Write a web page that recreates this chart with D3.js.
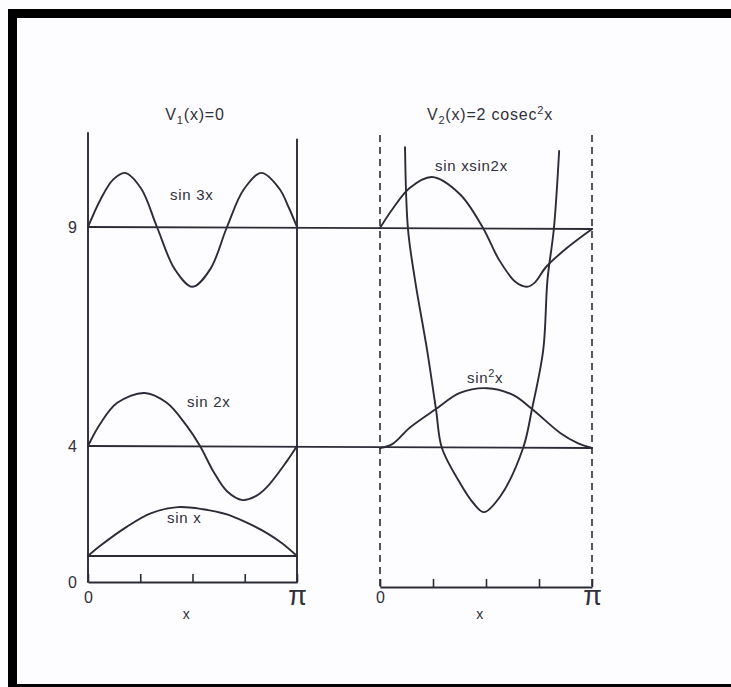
<!DOCTYPE html>
<html>
<head>
<meta charset="utf-8">
<script src="https://cdn.jsdelivr.net/npm/d3@7"></script>
<style>
  html, body { margin: 0; padding: 0; background: #ffffff; }
  svg { display: block; }
  text { font-family: "Liberation Sans", Arial, sans-serif; fill: #30303a; }
</style>
</head>
<body>
<svg id="chart" width="731" height="687"></svg>
<script>
// ---- data -------------------------------------------------------------
// energy levels (eigenvalues) and the y tick labels
const energyLevels = [0, 1, 4, 9];
const yTickValues = [0, 4, 9];
const yTickLabels = ["0", "4", "9"];
// x runs from 0 to π, stored in units of π
const xTickValues = [0, 0.25, 0.5, 0.75, 1];
const xTickLabels = ["0", "", "", "", "π"];
const xAxisLabel = "x";

// free particle in a box, V1(x)=0 : wavefunctions [x/π, amplitude]
const sinX = [[0, 0], [0.06, 0.2], [0.185, 0.56], [0.3, 0.82], [0.43, 0.94], [0.55, 0.9],
              [0.665, 0.8], [0.76, 0.64], [0.856, 0.44], [0.93, 0.24], [1, 0]];
const sin2X = [[0, 0], [0.057, 0.42], [0.14, 0.83], [0.27, 1.02], [0.377, 0.83], [0.47, 0.4],
               [0.536, 0], [0.6, -0.49], [0.665, -0.87], [0.74, -1.04], [0.8, -0.97],
               [0.856, -0.79], [0.95, -0.3], [1, 0]];
const sin3X = [[0, 0], [0.06, 0.53], [0.12, 0.91], [0.177, 1.04], [0.254, 0.74], [0.33, 0],
               [0.415, -0.81], [0.5, -1.15], [0.585, -0.81], [0.665, 0], [0.745, 0.72],
               [0.83, 1.04], [0.915, 0.74], [0.96, 0.38], [1, 0]];

// V2(x)=2 cosec²x : wavefunctions [x/π, amplitude]
const sinSqX = [[0, 0], [0.06, 0.08], [0.14, 0.39], [0.264, 0.75], [0.377, 1.06], [0.505, 1.15],
                [0.627, 1.02], [0.717, 0.75], [0.85, 0.29], [0.93, 0.1], [1, 0]];
const sinXsin2X = [[0, 0], [0.06, 0.37], [0.14, 0.77], [0.245, 0.98], [0.377, 0.65], [0.486, 0],
                   [0.56, -0.6], [0.64, -1.04], [0.693, -1.13], [0.73, -1.05], [0.783, -0.75],
                   [0.877, -0.4], [1, -0.02]];
// potential 2 cosec²x : [x/π, energy]
const potentialV2 = [[0.118, 10.87], [0.132, 9.0], [0.165, 7.84], [0.222, 6.24], [0.264, 4.89],
                     [0.292, 4.0], [0.377, 3.05], [0.44, 2.5], [0.49, 2.25], [0.566, 2.67],
                     [0.675, 4.0], [0.717, 4.89], [0.77, 6.24], [0.79, 7.84], [0.82, 9.0],
                     [0.845, 10.78]];

// ---- drawing ----------------------------------------------------------
const ink = "#2c2c38";
const svg = d3.select("#chart");

// scanned page frame
svg.append("rect").attr("width", 731).attr("height", 687).attr("fill", "#fdfdff");
svg.append("rect").attr("x", 8).attr("y", 9).attr("width", 723).attr("height", 9).attr("fill", "#000");
svg.append("rect").attr("x", 8).attr("y", 9).attr("width", 9).attr("height", 678).attr("fill", "#000");
svg.append("rect").attr("x", 8).attr("y", 684).attr("width", 723).attr("height", 3).attr("fill", "#000");

// energy axis is drawn schematically: piecewise linear between the levels
const y = d3.scaleLinear().domain(energyLevels).range([582, 556, 446, 227]);
const xL = d3.scaleLinear().domain([0, 1]).range([88, 297]);
const xR = d3.scaleLinear().domain([0, 1]).range([380, 592]);
const amp = d3.scaleLinear().domain([0, 1]).range([0, -52]);
const yTop = 11.15;
const smooth = d3.curveCatmullRom.alpha(0.5);

const g = svg.append("g").attr("stroke", ink).attr("fill", "none").attr("stroke-width", 1.9)
  .attr("stroke-linecap", "round").attr("stroke-linejoin", "round");

// left panel box walls
g.append("line").attr("x1", xL(0)).attr("x2", xL(0)).attr("y1", y(yTop)).attr("y2", y(0));
g.append("line").attr("x1", xL(1)).attr("x2", xL(1)).attr("y1", y(11.0)).attr("y2", y(0));

// right panel dashed walls
const rightAxisY = y(0) + 5;
[0, 1].forEach(d => {
  g.append("line").attr("x1", xR(d)).attr("x2", xR(d))
    .attr("y1", y(11.1)).attr("y2", rightAxisY)
    .attr("stroke-width", 1.6).attr("stroke-linecap", "butt").attr("stroke-dasharray", "7,5");
});

// energy level lines
g.append("line").attr("x1", xL(0)).attr("x2", xL(1)).attr("y1", y(1)).attr("y2", y(1));
[4, 9].forEach(e => {
  g.append("line").attr("x1", xL(0)).attr("x2", xR(1)).attr("y1", y(e)).attr("y2", y(e) + 2);
});

// wavefunctions drawn about their own energy level
function wave(xs, base) {
  return d3.line().x(d => xs(d[0])).y(d => base + amp(d[1])).curve(smooth);
}
g.append("path").attr("d", wave(xL, y(1))(sinX));
g.append("path").attr("d", wave(xL, y(4))(sin2X));
g.append("path").attr("d", wave(xL, y(9))(sin3X));
g.append("path").attr("d", wave(xR, y(4) + 2)(sinSqX));
g.append("path").attr("d", wave(xR, y(9) + 1)(sinXsin2X));

// potential curve
g.append("path").attr("d", d3.line().x(d => xR(d[0])).y(d => y(d[1]) + 2).curve(smooth)(potentialV2));

// energy axis labels
const yAxis = svg.append("g").attr("transform", `translate(${xL(0)},0)`)
  .call(d3.axisLeft(y).tickValues(yTickValues).tickFormat((d, i) => yTickLabels[i]).tickSize(0).tickPadding(11));
yAxis.select(".domain").remove();
yAxis.selectAll("text").attr("font-size", 16).attr("font-family", "Liberation Sans, Arial, sans-serif")
  .attr("fill", "#30303a").attr("dy", "0.36em");

// x axes
function xAxis(xs, yPos, labelY) {
  const ax = svg.append("g").attr("transform", `translate(0,${yPos})`)
    .call(d3.axisBottom(xs).tickValues(xTickValues).tickFormat((d, i) => xTickLabels[i])
      .tickSizeInner(-8).tickSizeOuter(0));
  ax.select(".domain").attr("stroke", ink).attr("stroke-width", 1.9);
  ax.selectAll(".tick line").attr("stroke", ink).attr("stroke-width", 1.6);
  ax.selectAll(".tick text").attr("fill", "#30303a").attr("dy", null)
    .attr("y", labelY - yPos)
    .attr("font-size", 16).attr("font-family", "Liberation Sans, Arial, sans-serif");
  ax.selectAll(".tick text").filter((d, i) => xTickLabels[i] === "π")
    .attr("font-family", "Liberation Serif, Times New Roman, serif").attr("font-size", 27)
    .attr("y", labelY - yPos + 2);
  svg.append("text").attr("x", xs(0.47)).attr("y", labelY + 16).attr("text-anchor", "middle")
    .attr("font-size", 14).text(xAxisLabel);
}
xAxis(xL, y(0), 603);
xAxis(xR, rightAxisY, 603);

// titles
const t1 = svg.append("text").attr("x", 195).attr("y", 120).attr("text-anchor", "middle")
  .attr("font-size", 16).attr("letter-spacing", 0.8);
t1.append("tspan").text("V");
t1.append("tspan").attr("font-size", 11).attr("dy", 4).text("1");
t1.append("tspan").attr("dy", -4).text("(x)=0");

const t2 = svg.append("text").attr("x", 490).attr("y", 120).attr("text-anchor", "middle")
  .attr("font-size", 16).attr("letter-spacing", 0.8);
t2.append("tspan").text("V");
t2.append("tspan").attr("font-size", 11).attr("dy", 4).text("2");
t2.append("tspan").attr("dy", -4).text("(x)=2 cosec");
t2.append("tspan").attr("font-size", 11).attr("dy", -6).text("2");
t2.append("tspan").attr("dy", 6).text("x");

// curve labels
function label(x, yb, text) {
  return svg.append("text").attr("x", x).attr("y", yb).attr("font-size", 15).attr("letter-spacing", 0.7).text(text);
}
label(170, 200, "sin 3x");
label(187, 407, "sin 2x");
label(167, 523, "sin x");
label(435, 171, "sin xsin2x");
const s2 = label(467, 383, "");
s2.append("tspan").text("sin");
s2.append("tspan").attr("font-size", 11).attr("dy", -6).text("2");
s2.append("tspan").attr("dy", 6).text("x");
</script>
</body>
</html>
